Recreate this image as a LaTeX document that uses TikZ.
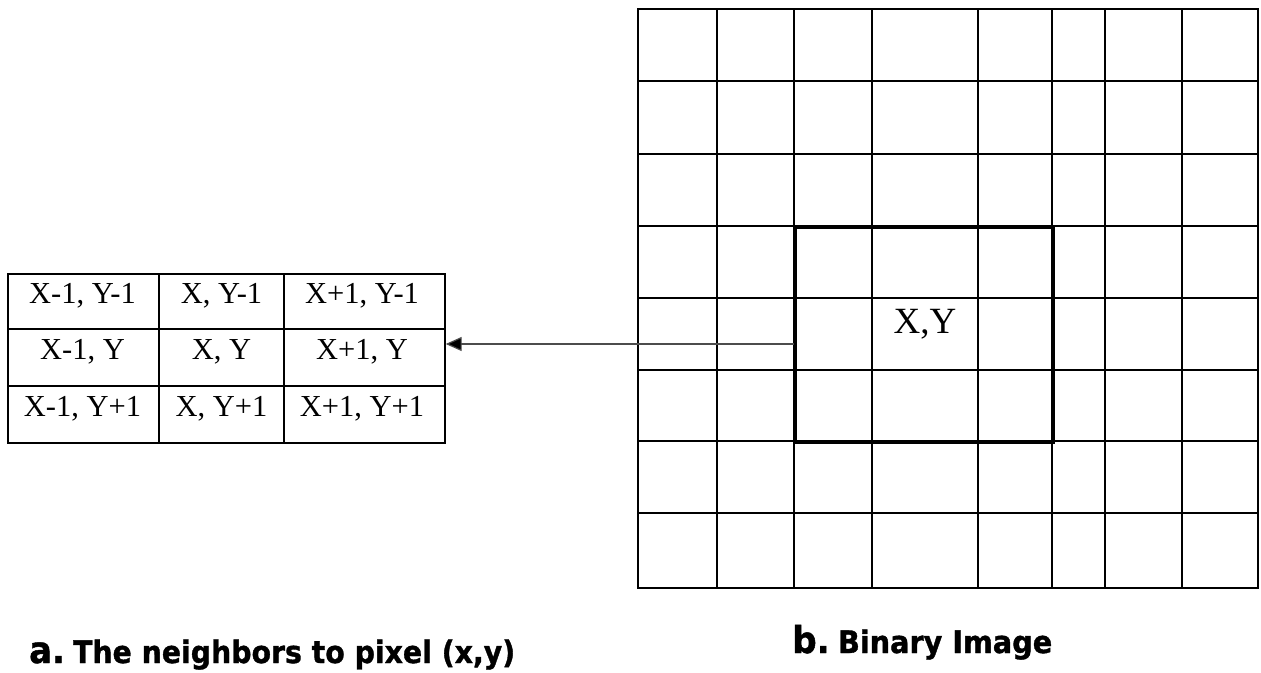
\documentclass[tikz,border=0pt]{standalone}
\usepackage{fontspec}
\usepackage{graphicx}
\setmainfont{Liberation Serif}
\newfontfamily\capfont{DejaVu Sans Bold}[FakeBold=1.2]
\usetikzlibrary{arrows.meta}
\tikzset{
  gridline/.style={line width=2.1pt, line cap=rect},
  hlbox/.style={draw, line width=2.6pt, minimum width=258pt, minimum height=215pt, inner sep=0pt},
  tabline/.style={line width=1.7pt},
  celltext/.style={anchor=base, inner sep=0pt, font=\fontsize{30.5}{34}\selectfont},
  bigtext/.style={anchor=base, inner sep=0pt, font=\fontsize{37}{42}\selectfont},
  arr/.style={draw=black!70, line width=1.2pt, -{Triangle[length=16pt,width=14pt,fill=black]}},
  captext/.style={anchor=base west, inner sep=0pt}
}
\begin{document}
\begin{tikzpicture}[x=1pt,y=-1pt]
\useasboundingbox (0,0) rectangle (1261,672);
% binary image grid
\foreach \x in {638,717,794,872,978,1052,1105,1182,1258}
  \draw[gridline] (\x,9) -- (\x,588);
\foreach \y in {9,81,154,226,298,370,441,513,588}
  \draw[gridline] (638,\y) -- (1258,\y);
\node[hlbox, anchor=north west] (hl) at (794,226) {};
\node[bigtext] (xy) at (925,333) {X,Y};
% neighbourhood table
\node[draw, tabline, anchor=north west, minimum width=437pt, minimum height=169pt, inner sep=0pt] (tab) at (7,273) {};
\draw[tabline] (159,273) -- (159,442) (284,273) -- (284,442) (7,329) -- (444,329) (7,386) -- (444,386);
\node[celltext] (c11) at (82.5,303) {X-1, Y-1};
\node[celltext] (c12) at (221.5,303) {X, Y-1};
\node[celltext] (c13) at (362,303) {X+1, Y-1};
\node[celltext] (c21) at (82.5,359) {X-1, Y};
\node[celltext] (c22) at (221.5,359) {X, Y};
\node[celltext] (c23) at (362,359) {X+1, Y};
\node[celltext] (c31) at (82.5,416) {X-1, Y+1};
\node[celltext] (c32) at (221.5,416) {X, Y+1};
\node[celltext] (c33) at (362,416) {X+1, Y+1};
% arrow
\coordinate (src) at (794,344);
\draw[arr] (src) -- (src -| tab.east);
% captions
\node[captext] (capa) at (29,663) {\resizebox{486pt}{\height}{\capfont{\fontsize{37}{42}\selectfont a.}\hspace{9pt}\fontsize{31}{36}\selectfont The neighbors to pixel (x,y)}};
\node[captext] (capb) at (792,653) {\resizebox{260pt}{\height}{\capfont{\fontsize{37}{42}\selectfont b.}\hspace{9pt}\fontsize{31}{36}\selectfont Binary Image}};
\end{tikzpicture}
\end{document}
